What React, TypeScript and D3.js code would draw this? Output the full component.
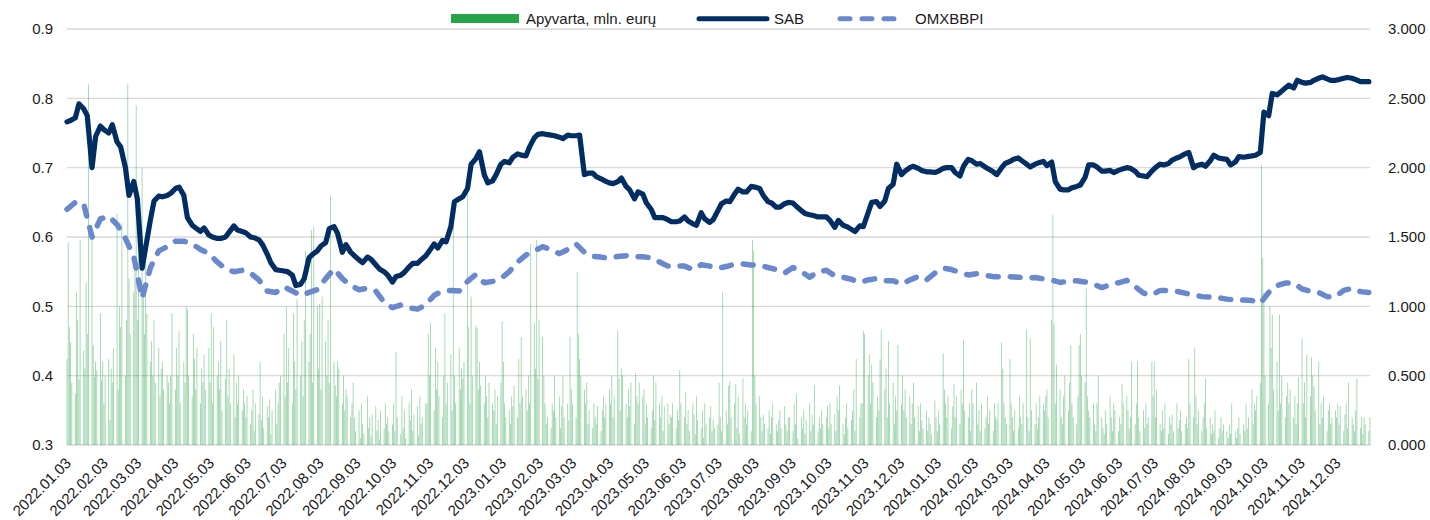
import { useEffect, useRef } from 'react';
import * as d3 from 'd3';

// SAB share price, EUR (Monday and Thursday of each week from 2022-01-03)
const sabPrices = [
  0.766, 0.768, 0.772, 0.792, 0.785, 0.775, 0.7, 0.745, 0.76, 0.755,
  0.75, 0.762, 0.737, 0.73, 0.7, 0.66, 0.68, 0.655, 0.555, 0.585,
  0.625, 0.652, 0.659, 0.658, 0.66, 0.663, 0.67, 0.672, 0.66, 0.628,
  0.617, 0.613, 0.608, 0.613, 0.603, 0.6, 0.598, 0.598, 0.6, 0.607,
  0.616, 0.61, 0.608, 0.606, 0.6, 0.599, 0.596, 0.589, 0.575, 0.563,
  0.553, 0.552, 0.551, 0.55, 0.545, 0.53, 0.532, 0.54, 0.57, 0.575,
  0.58, 0.587, 0.592, 0.612, 0.615, 0.605, 0.578, 0.589, 0.578, 0.573,
  0.567, 0.563, 0.571, 0.568, 0.56, 0.554, 0.55, 0.545, 0.535, 0.543,
  0.545, 0.549, 0.557, 0.562, 0.562, 0.567, 0.573, 0.58, 0.59, 0.584,
  0.595, 0.593, 0.615, 0.651, 0.655, 0.658, 0.67, 0.705, 0.713, 0.723,
  0.69, 0.678, 0.681, 0.69, 0.705, 0.709, 0.707, 0.715, 0.72, 0.718,
  0.717, 0.73, 0.743, 0.748, 0.749, 0.748, 0.747, 0.746, 0.744, 0.742,
  0.747, 0.746, 0.746, 0.747, 0.69, 0.692, 0.692, 0.687, 0.684, 0.681,
  0.678, 0.677, 0.68, 0.685, 0.673, 0.668, 0.655, 0.665, 0.662, 0.649,
  0.64, 0.628, 0.628, 0.628, 0.625, 0.622, 0.622, 0.623, 0.629, 0.623,
  0.619, 0.617, 0.635, 0.626, 0.621, 0.625, 0.638, 0.648, 0.652, 0.651,
  0.662, 0.669, 0.665, 0.665, 0.673, 0.672, 0.67, 0.66, 0.651, 0.649,
  0.643, 0.643, 0.648, 0.65, 0.649, 0.644, 0.638, 0.634, 0.632, 0.631,
  0.629, 0.629, 0.629, 0.624, 0.614, 0.624, 0.617, 0.615, 0.611, 0.608,
  0.616, 0.615, 0.635, 0.65, 0.651, 0.644, 0.652, 0.67, 0.676, 0.705,
  0.69, 0.695, 0.7, 0.702, 0.699, 0.696, 0.694, 0.694, 0.693, 0.695,
  0.699, 0.7, 0.7, 0.693, 0.688, 0.702, 0.712, 0.71, 0.705, 0.706,
  0.701, 0.698, 0.694, 0.69, 0.7, 0.706, 0.709, 0.712, 0.714, 0.71,
  0.705, 0.701, 0.705, 0.707, 0.709, 0.703, 0.708, 0.68, 0.669, 0.668,
  0.668, 0.671, 0.673, 0.675, 0.686, 0.704, 0.704, 0.701, 0.695, 0.695,
  0.696, 0.693, 0.696, 0.698, 0.7, 0.699, 0.695, 0.689, 0.688, 0.687,
  0.695, 0.7, 0.705, 0.704, 0.706, 0.711, 0.714, 0.716, 0.72, 0.722,
  0.7, 0.703, 0.705, 0.702, 0.71, 0.718, 0.714, 0.713, 0.712, 0.704,
  0.708, 0.716, 0.715, 0.716, 0.717, 0.718, 0.722, 0.78, 0.775, 0.807,
  0.805, 0.809, 0.815, 0.819, 0.815, 0.826, 0.823, 0.822, 0.823, 0.826,
  0.829, 0.831, 0.828, 0.826, 0.826, 0.827, 0.829, 0.83, 0.829, 0.827,
  0.824, 0.824, 0.824,
];

// OMXBBPI, thousands of points (Mondays from 2022-01-03)
const omxWeekly = [
  1.7, 1.75, 1.74, 1.5, 1.63, 1.65, 1.59, 1.49, 1.36, 1.06,
  1.28, 1.4, 1.43, 1.47, 1.47, 1.45, 1.41, 1.38, 1.32, 1.27,
  1.25, 1.26, 1.24, 1.19, 1.11, 1.1, 1.14, 1.11, 1.08, 1.1,
  1.12, 1.2, 1.27, 1.2, 1.15, 1.12, 1.13, 1.11, 1.03, 0.99,
  1.01, 0.99, 0.98, 1.01, 1.08, 1.11, 1.115, 1.11, 1.18, 1.23,
  1.17, 1.18, 1.2, 1.25, 1.32, 1.37, 1.4, 1.43, 1.41, 1.38,
  1.41, 1.45, 1.39, 1.36, 1.355, 1.346, 1.36, 1.365, 1.358, 1.358,
  1.35, 1.32, 1.29, 1.29, 1.29, 1.265, 1.3, 1.29, 1.275, 1.287,
  1.305, 1.305, 1.298, 1.297, 1.28, 1.265, 1.24, 1.28, 1.25, 1.21,
  1.25, 1.26, 1.22, 1.209, 1.195, 1.172, 1.19, 1.2, 1.185, 1.185,
  1.16, 1.19, 1.215, 1.19, 1.24, 1.275, 1.265, 1.245, 1.226, 1.235,
  1.225, 1.214, 1.214, 1.214, 1.21, 1.205, 1.208, 1.198, 1.19, 1.172,
  1.182, 1.185, 1.176, 1.16, 1.135, 1.155, 1.17, 1.188, 1.142, 1.095,
  1.082, 1.115, 1.115, 1.108, 1.095, 1.082, 1.07, 1.067, 1.062, 1.052,
  1.047, 1.045, 1.042, 1.022, 1.1, 1.15, 1.168, 1.168, 1.125, 1.108,
  1.1, 1.07, 1.07, 1.115, 1.13, 1.106, 1.1,
];

// daily turnover, mln EUR, one row per month (trading days in order)
const turnover2022 = [
  [0.62, 1.46, 0.85, 0.74, 0.45, 0.37, 1.1, 0.9, 0.47, 1.48, 0.68, 0.55, 1.17, 0.8, 2.6, 1.5, 0.72, 0.49, 0.6, 0.54, 0.95],
  [0.47, 0.6, 0.3, 0.5, 0.62, 0.18, 0.55, 0.45, 0.7, 1.67, 0.4, 1.0, 0.85, 1.6, 0.5, 0.9, 2.6, 1.2, 0.8, 1.1],
  [1.3, 2.45, 0.9, 1.4, 2.0, 1.1, 0.8, 1.48, 0.95, 0.6, 0.75, 0.5, 0.9, 0.45, 0.7, 0.35, 0.55, 0.6, 0.4, 0.5, 0.45, 0.3, 0.5],
  [0.95, 0.4, 0.7, 0.5, 0.82, 0.3, 0.6, 0.45, 1.0, 0.98, 0.5, 0.35, 0.8, 0.62, 0.4, 0.7, 0.3, 0.55, 0.45, 0.65, 0.4],
  [0.7, 0.45, 0.95, 0.3, 0.85, 0.5, 0.6, 0.4, 0.75, 0.25, 0.48, 0.9, 0.35, 0.55, 0.3, 0.65, 0.2, 0.45, 0.3, 0.5, 0.25, 0.4],
  [0.3, 0.2, 0.35, 0.15, 0.25, 0.4, 0.1, 0.3, 0.22, 0.6, 0.18, 0.35, 0.12, 0.28, 0.2, 0.33, 0.08, 0.25, 0.4, 0.15, 0.3, 0.45],
  [0.5, 0.8, 0.35, 1.0, 0.45, 0.7, 0.3, 0.95, 0.6, 0.4, 1.05, 0.5, 0.75, 0.35, 0.9, 1.4, 0.6, 0.8, 1.55, 0.45, 1.57],
  [1.0, 0.55, 1.02, 0.4, 1.07, 0.75, 0.5, 0.9, 0.45, 1.8, 0.6, 0.43, 0.35, 0.6, 0.55, 0.3, 0.5, 0.25, 0.4, 0.35, 0.2, 0.3, 0.45],
  [0.2, 0.1, 0.25, 0.05, 0.3, 0.15, 0.08, 0.35, 0.12, 0.2, 0.06, 0.22, 0.28, 0.1, 0.18, 0.04, 0.25, 0.12, 0.3, 0.15, 0.2, 0.1],
  [0.15, 0.3, 0.1, 0.67, 0.2, 0.08, 0.35, 0.12, 0.25, 0.05, 0.3, 0.18, 0.4, 0.1, 0.22, 0.28, 0.07, 0.35, 0.15, 0.2, 0.3],
  [0.3, 0.8, 0.5, 0.88, 0.25, 0.7, 0.4, 0.6, 0.35, 0.2, 0.5, 0.95, 0.3, 0.45, 0.65, 0.25, 1.6, 0.5, 0.3, 0.7, 0.4, 0.55],
  [0.48, 0.6, 1.85, 0.85, 0.3, 1.07, 0.5, 0.86, 0.84, 0.4, 0.6, 0.43, 0.3, 0.5, 0.35, 0.2, 0.45, 0.3, 0.25, 0.4, 0.15, 0.35],
];
const turnover2023 = [
  [0.45, 0.89, 0.6, 0.3, 0.2, 0.25, 0.15, 0.35, 0.28, 0.43, 0.2, 0.62, 0.3, 0.78, 0.35, 0.4, 0.25, 0.5, 0.3, 1.45, 0.88, 0.55],
  [1.48, 0.48, 0.9, 0.78, 0.5, 0.3, 0.15, 0.2, 0.12, 0.3, 0.25, 0.5, 0.2, 0.35, 0.12, 0.28, 0.5, 0.2, 0.3, 0.18],
  [0.78, 0.4, 0.3, 0.2, 1.25, 0.8, 0.62, 0.5, 0.4, 0.3, 0.45, 0.15, 0.25, 0.12, 0.3, 0.2, 0.15, 0.28, 0.1, 0.25, 0.35, 0.2, 0.3],
  [0.4, 0.3, 0.5, 0.2, 0.35, 0.82, 0.48, 0.25, 0.55, 0.5, 0.3, 0.2, 0.4, 0.28, 0.45, 0.15, 0.52, 0.35, 0.3, 0.45],
  [0.35, 0.4, 0.15, 0.3, 0.2, 0.12, 0.25, 0.5, 0.18, 0.45, 0.3, 0.2, 0.35, 0.1, 0.28, 0.3, 0.15, 0.22, 0.2, 0.3, 0.12, 0.25, 0.18],
  [0.54, 0.3, 0.2, 0.38, 0.15, 0.25, 0.1, 0.3, 0.22, 0.08, 0.35, 0.18, 0.12, 0.25, 0.05, 0.3, 0.15, 0.2, 0.28, 0.1, 0.18, 0.12],
  [0.15, 0.45, 0.2, 0.1, 1.1, 0.25, 0.15, 0.43, 0.46, 0.2, 0.3, 0.44, 0.12, 0.35, 0.08, 0.48, 0.2, 0.3, 0.15, 0.25, 0.1],
  [1.48, 1.4, 0.5, 0.3, 0.35, 0.2, 0.1, 0.22, 0.15, 0.12, 0.25, 0.08, 0.2, 0.3, 0.15, 0.1, 0.18, 0.25, 0.12, 0.28, 0.15, 0.1, 0.2],
  [0.2, 0.1, 0.3, 0.15, 0.37, 0.05, 0.2, 0.12, 0.25, 0.08, 0.18, 0.3, 0.1, 0.22, 0.15, 0.43, 0.1, 0.2, 0.12, 0.25, 0.15],
  [0.2, 0.28, 0.12, 0.3, 0.15, 0.22, 0.1, 0.35, 0.25, 0.43, 0.15, 0.08, 0.2, 0.3, 0.12, 0.18, 0.25, 0.4, 0.1, 0.62, 0.2, 0.3],
  [0.3, 0.82, 0.8, 0.5, 0.65, 0.3, 0.58, 0.45, 0.2, 0.35, 0.25, 0.62, 0.83, 0.4, 0.55, 0.2, 0.75, 0.3, 0.45, 0.15, 0.35, 0.25],
  [0.72, 0.3, 0.5, 0.25, 0.4, 0.2, 0.35, 0.15, 0.3, 0.45, 0.2, 0.28, 0.1, 0.3, 0.18, 0.12, 0.25, 0.1, 0.2, 0.15, 0.08],
];
const turnover2024 = [
  [0.32, 0.2, 0.1, 0.25, 0.15, 0.66, 0.4, 0.3, 0.2, 0.35, 0.12, 0.28, 0.44, 0.2, 0.35, 0.15, 0.4, 0.3, 0.76, 0.25, 0.2, 0.3, 0.1],
  [0.4, 0.3, 0.45, 0.15, 0.25, 0.1, 0.3, 0.12, 0.2, 0.35, 0.15, 0.25, 0.1, 0.3, 0.2, 0.18, 0.3, 0.74, 0.55, 0.3, 0.2],
  [0.15, 0.62, 0.3, 0.2, 0.1, 0.25, 0.12, 0.35, 0.2, 0.15, 0.3, 0.83, 0.2, 0.1, 0.77, 0.25, 0.15, 0.3, 0.12, 0.2, 0.35],
  [0.3, 0.25, 0.35, 0.4, 0.2, 0.9, 1.66, 0.87, 0.3, 0.58, 0.4, 0.2, 0.15, 0.35, 0.5, 0.25, 0.45, 0.72, 0.3, 0.2, 0.15, 0.35],
  [0.72, 0.8, 0.5, 0.45, 1.13, 0.35, 0.25, 0.2, 0.3, 0.15, 0.1, 0.3, 0.5, 0.2, 0.12, 0.08, 0.25, 0.15, 0.35, 0.2, 0.1, 0.3, 0.25],
  [0.1, 0.2, 0.15, 0.44, 0.3, 0.35, 0.25, 0.12, 0.2, 0.6, 0.15, 0.3, 0.6, 0.2, 0.1, 0.25, 0.12, 0.3, 0.15, 0.2],
  [0.6, 0.35, 0.6, 0.2, 0.4, 0.15, 0.1, 0.25, 0.12, 0.3, 0.08, 0.2, 0.15, 0.22, 0.1, 0.3, 0.12, 0.18, 0.25, 0.1, 0.15, 0.2, 0.12],
  [0.62, 0.3, 0.2, 0.7, 0.35, 0.15, 0.25, 0.1, 0.2, 0.3, 0.48, 0.12, 0.2, 0.08, 0.15, 0.1, 0.25, 0.05, 0.12, 0.2, 0.1, 0.15],
  [0.1, 0.05, 0.15, 0.08, 0.3, 0.1, 0.05, 0.12, 0.2, 0.08, 0.15, 0.1, 0.3, 0.12, 0.2, 0.4, 0.15, 0.3, 0.25, 0.35, 0.45],
  [2.02, 1.35, 1.1, 0.5, 0.3, 1.0, 0.7, 0.94, 0.4, 0.6, 0.25, 0.94, 0.3, 0.5, 0.2, 0.35, 0.45, 0.3, 0.4, 0.2, 0.35, 0.15, 0.3],
  [0.49, 0.77, 0.3, 0.45, 0.2, 0.65, 0.35, 0.63, 0.5, 0.42, 0.25, 0.6, 0.15, 0.3, 0.2, 0.35, 0.1, 0.25, 0.3, 0.15, 0.2],
  [0.25, 0.2, 0.3, 0.15, 0.28, 0.1, 0.22, 0.3, 0.12, 0.45, 0.2, 0.15, 0.1, 0.25, 0.48, 0.12, 0.2, 0.08, 0.2, 0.15, 0.1, 0.2],
];

const leftTicks = [0.3, 0.4, 0.5, 0.6, 0.7, 0.8, 0.9];
const rightTicks = [0, 0.5, 1, 1.5, 2, 2.5, 3];
const legendLabels = ['Apyvarta, mln. eurų', 'SAB', 'OMXBBPI'];

const FONT = '"Liberation Sans", Arial, sans-serif';
const GREEN = '#27a34a';
const NAVY = '#002d62';
const LIGHTBLUE = '#6a88cc';
const TEXT = '#1a1a1a';

interface Point { date: Date; value: number }

export default function App() {
  const svgRef = useRef<SVGSVGElement>(null);

  useEffect(() => {
    if (!svgRef.current) return;
    const svg = d3.select(svgRef.current);
    svg.selectAll('*').remove();

    const left = 67, right = 1370, top = 29, bottom = 445;

    const start = new Date(2022, 0, 3);
    const end = new Date(2024, 11, 31);
    const x = d3.scaleTime().domain([start, end]).range([left, right]);
    const yLeft = d3.scaleLinear().domain([0.3, 0.9]).range([bottom, top]);
    const yRight = d3.scaleLinear().domain([0, 3]).range([bottom, top]);

    // Mondays for OMXBBPI, Mondays + Thursdays for SAB
    const weeks = d3.timeMonday.range(start, end);
    const halfWeeks = d3
      .merge<Date>(weeks.map((w) => [w, d3.timeDay.offset(w, 3)]))
      .filter((d) => d <= end);
    const sab: Point[] = sabPrices
      .map((v, i) => ({ date: halfWeeks[i], value: v }))
      .filter((d) => d.date);
    const omx: Point[] = omxWeekly
      .map((v, i) => ({ date: weeks[i], value: v }))
      .filter((d) => d.date);

    // daily turnover placed on the weekdays of each month
    const bars: Point[] = [];
    [turnover2022, turnover2023, turnover2024].forEach((months, yi) => {
      months.forEach((vals, m) => {
        const days = d3.timeDay
          .range(new Date(2022 + yi, m, 1), new Date(2022 + yi, m + 1, 1))
          .filter((d) => d.getDay() !== 0 && d.getDay() !== 6 && d >= start && d <= end);
        vals.forEach((v, k) => {
          if (days[k]) bars.push({ date: days[k], value: v });
        });
      });
    });

    // grid
    svg
      .append('g')
      .selectAll('line')
      .data(leftTicks)
      .join('line')
      .attr('x1', left)
      .attr('x2', right)
      .attr('y1', (d) => yLeft(d))
      .attr('y2', (d) => yLeft(d))
      .attr('stroke', '#d9d9d9')
      .attr('stroke-width', 1.3);

    // turnover bars
    svg
      .append('g')
      .selectAll('rect')
      .data(bars)
      .join('rect')
      .attr('x', (d) => x(d.date) - 0.4)
      .attr('width', 0.8)
      .attr('y', (d) => yRight(d.value))
      .attr('height', (d) => bottom - yRight(d.value))
      .attr('fill', GREEN)
      .attr('fill-opacity', 0.5);

    // OMXBBPI dashed line
    const omxLine = d3
      .line<Point>()
      .x((d) => x(d.date))
      .y((d) => yRight(d.value));
    svg
      .append('path')
      .datum(omx)
      .attr('d', omxLine)
      .attr('fill', 'none')
      .attr('stroke', LIGHTBLUE)
      .attr('stroke-width', 5.5)
      .attr('stroke-dasharray', '10 12')
      .attr('stroke-linecap', 'round')
      .attr('stroke-linejoin', 'round');

    // SAB line
    const sabLine = d3
      .line<Point>()
      .x((d) => x(d.date))
      .y((d) => yLeft(d.value));
    svg
      .append('path')
      .datum(sab)
      .attr('d', sabLine)
      .attr('fill', 'none')
      .attr('stroke', NAVY)
      .attr('stroke-width', 5.2)
      .attr('stroke-linecap', 'round')
      .attr('stroke-linejoin', 'round');

    // left axis labels
    svg
      .append('g')
      .selectAll('text')
      .data(leftTicks)
      .join('text')
      .attr('x', 53)
      .attr('y', (d) => yLeft(d))
      .attr('dy', '0.35em')
      .attr('text-anchor', 'end')
      .attr('font-family', FONT)
      .attr('font-size', 15)
      .attr('fill', TEXT)
      .text((d) => d3.format('.1f')(d));

    // right axis labels
    svg
      .append('g')
      .selectAll('text')
      .data(rightTicks)
      .join('text')
      .attr('x', 1388)
      .attr('y', (d) => yRight(d))
      .attr('dy', '0.35em')
      .attr('text-anchor', 'start')
      .attr('font-family', FONT)
      .attr('font-size', 15)
      .attr('fill', TEXT)
      .text((d) => d3.format('.3f')(d));

    // date labels, every month on the 3rd
    const monthTicks = d3.timeMonth
      .range(new Date(2022, 0, 1), new Date(2025, 0, 1))
      .map((d) => new Date(d.getFullYear(), d.getMonth(), 3));
    svg
      .append('g')
      .selectAll('text')
      .data(monthTicks)
      .join('text')
      .attr('transform', (d) => `translate(${x(d) + 5},${464}) rotate(-45)`)
      .attr('text-anchor', 'end')
      .attr('font-family', FONT)
      .attr('font-size', 15)
      .attr('fill', TEXT)
      .text((d) => d3.timeFormat('%Y.%m.%d')(d));

    // legend
    const lg = svg.append('g').attr('font-family', FONT).attr('font-size', 15).attr('fill', TEXT);
    lg.append('rect').attr('x', 451).attr('y', 14).attr('width', 68).attr('height', 9).attr('fill', GREEN);
    lg.append('text').attr('x', 526).attr('y', 23.5).text(legendLabels[0]);
    lg.append('line')
      .attr('x1', 699).attr('x2', 767).attr('y1', 18.7).attr('y2', 18.7)
      .attr('stroke', NAVY).attr('stroke-width', 5).attr('stroke-linecap', 'round');
    lg.append('text').attr('x', 774).attr('y', 23.5).text(legendLabels[1]);
    lg.append('line')
      .attr('x1', 840).attr('x2', 906).attr('y1', 18.7).attr('y2', 18.7)
      .attr('stroke', LIGHTBLUE).attr('stroke-width', 5)
      .attr('stroke-dasharray', '10 12').attr('stroke-linecap', 'round');
    lg.append('text').attr('x', 915).attr('y', 23.5).text(legendLabels[2]);
  }, []);

  return (
    <svg
      ref={svgRef}
      width={1430}
      height={520}
      style={{ position: 'absolute', left: 0, top: 0, background: '#fff' }}
    />
  );
}
